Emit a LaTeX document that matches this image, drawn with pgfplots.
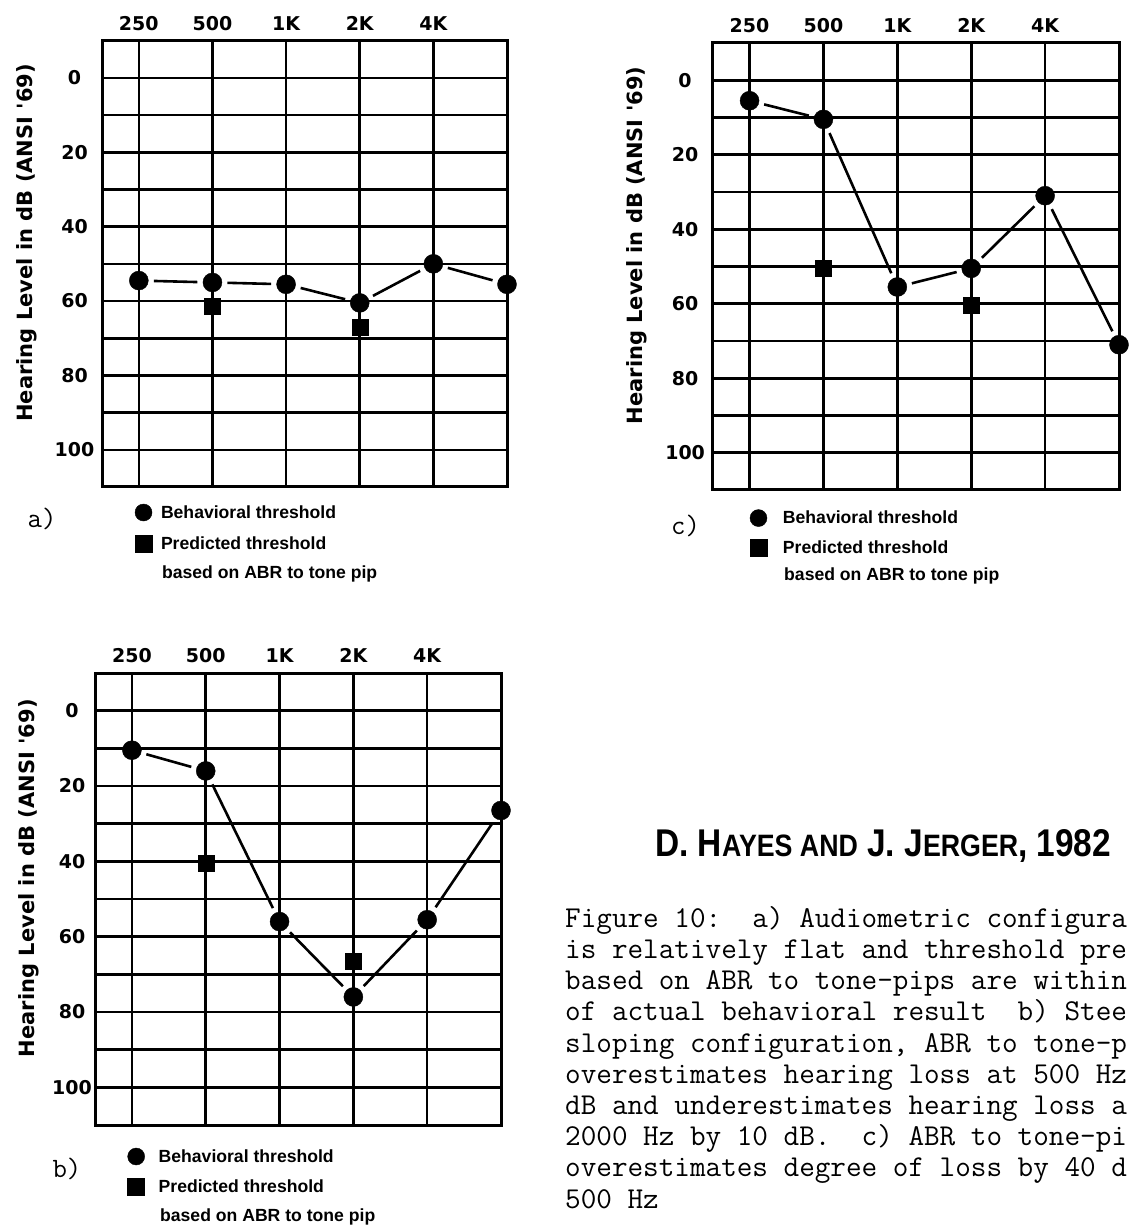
\documentclass[border=0pt]{standalone}
\usepackage{fontspec}
\usepackage{graphicx}
\usepackage{pgfplots}
\pgfplotsset{compat=1.18}
\newfontfamily\tickfont{DejaVu Sans}
\newfontfamily\legfont{Liberation Sans}
\newfontfamily\titlefont{Liberation Sans}
\newcommand\capfont{\ttfamily\fontsize{30.3}{31.2}\selectfont\addfontfeature{FakeBold=0.6}\frenchspacing}
\newcommand\panelfont{\ttfamily\fontsize{28}{30}\selectfont\addfontfeature{FakeBold=0.4}}
\pgfplotsset{
  audio/.style={
    scale only axis,
    xmin=-0.5, xmax=5, ymin=-10, ymax=110, y dir=reverse,
    xtick={0,1,2,3,4}, xticklabels={250,500,1K,2K,4K},
    ytick={0,20,40,60,80,100}, yticklabels={0,20,40,60,80,100},
    minor ytick={10,30,50,70,90},
    grid=both,
    major grid style={black, line width=2.6pt},
    minor grid style={black, line width=2.6pt},
    tick style={draw=none},
    axis line style={line width=3pt},
    xticklabel pos=upper,
    xticklabel style={anchor=center, yshift=17.5pt},
    ticklabel style={font=\tickfont\bfseries\fontsize{19}{19}\selectfont},
    /pgf/number format/assume math mode=true,
    ylabel={Hearing Level in dB (ANSI '69)},
    ylabel style={anchor=center, font=\tickfont\bfseries\fontsize{21}{21}\selectfont},
    clip=false,
    legend cell align=left,
    legend image code/.code={\draw[##1, mark size=8.5pt] plot coordinates {(0pt,0pt)};},
    legend style={draw=none, fill=none, inner sep=0pt, outer sep=0pt, anchor=north west,
      font=\legfont\bfseries\fontsize{17.6}{20}\selectfont, nodes={inner sep=0pt}},
  },
  seg/.style={forget plot, black, line width=2.6pt, shorten <=15pt, shorten >=15pt},
  beh/.style={only marks, black, mark=*, mark size=9.5pt},
  pred/.style={only marks, black, mark=square*, mark size=8pt},
}
\begin{document}
\begin{tikzpicture}
\useasboundingbox (0pt,0pt) rectangle (1132pt,1226pt);
\clip (0pt,0pt) rectangle (1132pt,1226pt);

% ---------- a) ----------
\begin{axis}[audio, at={(102pt,1185.3pt)}, anchor=north west, width=405pt, height=446.3pt,
  yticklabel style={anchor=center, xshift=-27.5pt},
  ylabel style={at={(axis description cs:-0.185,0.547)}},
  legend style={at={(axis description cs:0.0815,-0.0381)}, row sep=14.5pt, column sep=9pt}]
\addplot[seg] coordinates {(0,54.5) (1,55)};
\addplot[seg] coordinates {(1,55) (2,55.5)};
\addplot[seg] coordinates {(2,55.5) (3,60.5)};
\addplot[seg] coordinates {(3,60.5) (4,50)};
\addplot[seg] coordinates {(4,50) (5,55.5)};
\addplot[beh] coordinates {(0,54.5) (1,55) (2,55.5) (3,60.5) (4,50) (5,55.5)};
\addlegendentry{Behavioral threshold}
\addplot[pred] coordinates {(1,61.5) (3,67)};
\addlegendentry{Predicted threshold}
\node[anchor=base west, inner sep=0pt, font=\legfont\bfseries\fontsize{17.6}{20}\selectfont] at (axis description cs:0.148,-0.2048) {based on ABR to tone pip};
\node[inner sep=0pt, font=\panelfont] at (axis description cs:-0.148,-0.0717) {a)};
\end{axis}

% ---------- c) ----------
\begin{axis}[audio, at={(712.6pt,1183pt)}, anchor=north west, width=406.4pt, height=447pt,
  yticklabel style={anchor=center, xshift=-27.5pt},
  ylabel style={at={(axis description cs:-0.186,0.547)}},
  legend style={at={(axis description cs:0.092,-0.0438)}, row sep=12.4pt, column sep=16pt}]
\addplot[seg] coordinates {(0,5.5) (1,10.5)};
\addplot[seg] coordinates {(1,10.5) (2,55.5)};
\addplot[seg] coordinates {(2,55.5) (3,50.5)};
\addplot[seg] coordinates {(3,50.5) (4,31)};
\addplot[seg] coordinates {(4,31) (5,71)};
\addplot[beh] coordinates {(0,5.5) (1,10.5) (2,55.5) (3,50.5) (4,31) (5,71)};
\addlegendentry{Behavioral threshold}
\addplot[pred] coordinates {(1,50.5) (3,60.5)};
\addlegendentry{Predicted threshold}
\node[anchor=base west, inner sep=0pt, font=\legfont\bfseries\fontsize{17.6}{20}\selectfont] at (axis description cs:0.1757,-0.2022) {based on ABR to tone pip};
\node[inner sep=0pt, font=\panelfont] at (axis description cs:-0.0664,-0.0805) {c)};
\end{axis}

% ---------- b) ----------
\begin{axis}[audio, at={(95pt,553pt)}, anchor=north west, width=406pt, height=452pt,
  yticklabel style={anchor=center, xshift=-23pt},
  ylabel style={at={(axis description cs:-0.163,0.546)}},
  legend style={at={(axis description cs:0.0805,-0.0509)}, row sep=13.5pt, column sep=14pt}]
\addplot[seg] coordinates {(0,10.5) (1,16)};
\addplot[seg] coordinates {(1,16) (2,56)};
\addplot[seg] coordinates {(2,56) (3,76)};
\addplot[seg] coordinates {(3,76) (4,55.5)};
\addplot[seg] coordinates {(4,55.5) (5,26.5)};
\addplot[beh] coordinates {(0,10.5) (1,16) (2,56) (3,76) (4,55.5) (5,26.5)};
\addlegendentry{Behavioral threshold}
\addplot[pred] coordinates {(1,40.5) (3,66.5)};
\addlegendentry{Predicted threshold}
\node[anchor=base west, inner sep=0pt, font=\legfont\bfseries\fontsize{17.6}{20}\selectfont] at (axis description cs:0.160,-0.2133) {based on ABR to tone pip};
\node[inner sep=0pt, font=\panelfont] at (axis description cs:-0.069,-0.0973) {b)};
\end{axis}

% ---------- title and caption (as much as the reference shows) ----------
\node[anchor=base west, inner sep=0pt] at (655pt,369pt) {\resizebox{456pt}{27pt}{\titlefont\bfseries\fontsize{27}{27}\selectfont D. H{\fontsize{21.6}{27}\selectfont AYES AND} J. J{\fontsize{21.6}{27}\selectfont ERGER}, 1982}};
\begin{scope}[every node/.style={anchor=base west, inner sep=0pt, font=\capfont}]
\node at (565pt,298.7pt) {Figure 10:\ \ a) Audiometric configura};
\node at (565pt,267.5pt) {is relatively flat and threshold pre};
\node at (565pt,236.3pt) {based on ABR to tone-pips are within};
\node at (565pt,205.1pt) {of actual behavioral result\ \ b) Stee};
\node at (565pt,173.9pt) {sloping configuration, ABR to tone-p};
\node at (565pt,142.7pt) {overestimates hearing loss at 500 Hz};
\node at (565pt,111.5pt) {dB and underestimates hearing loss a};
\node at (565pt,80.3pt) {2000 Hz by 10 dB.\ \ c) ABR to tone-pi};
\node at (565pt,49.1pt) {overestimates degree of loss by 40 d};
\node at (565pt,17.9pt) {500 Hz};
\end{scope}
\end{tikzpicture}
\end{document}
